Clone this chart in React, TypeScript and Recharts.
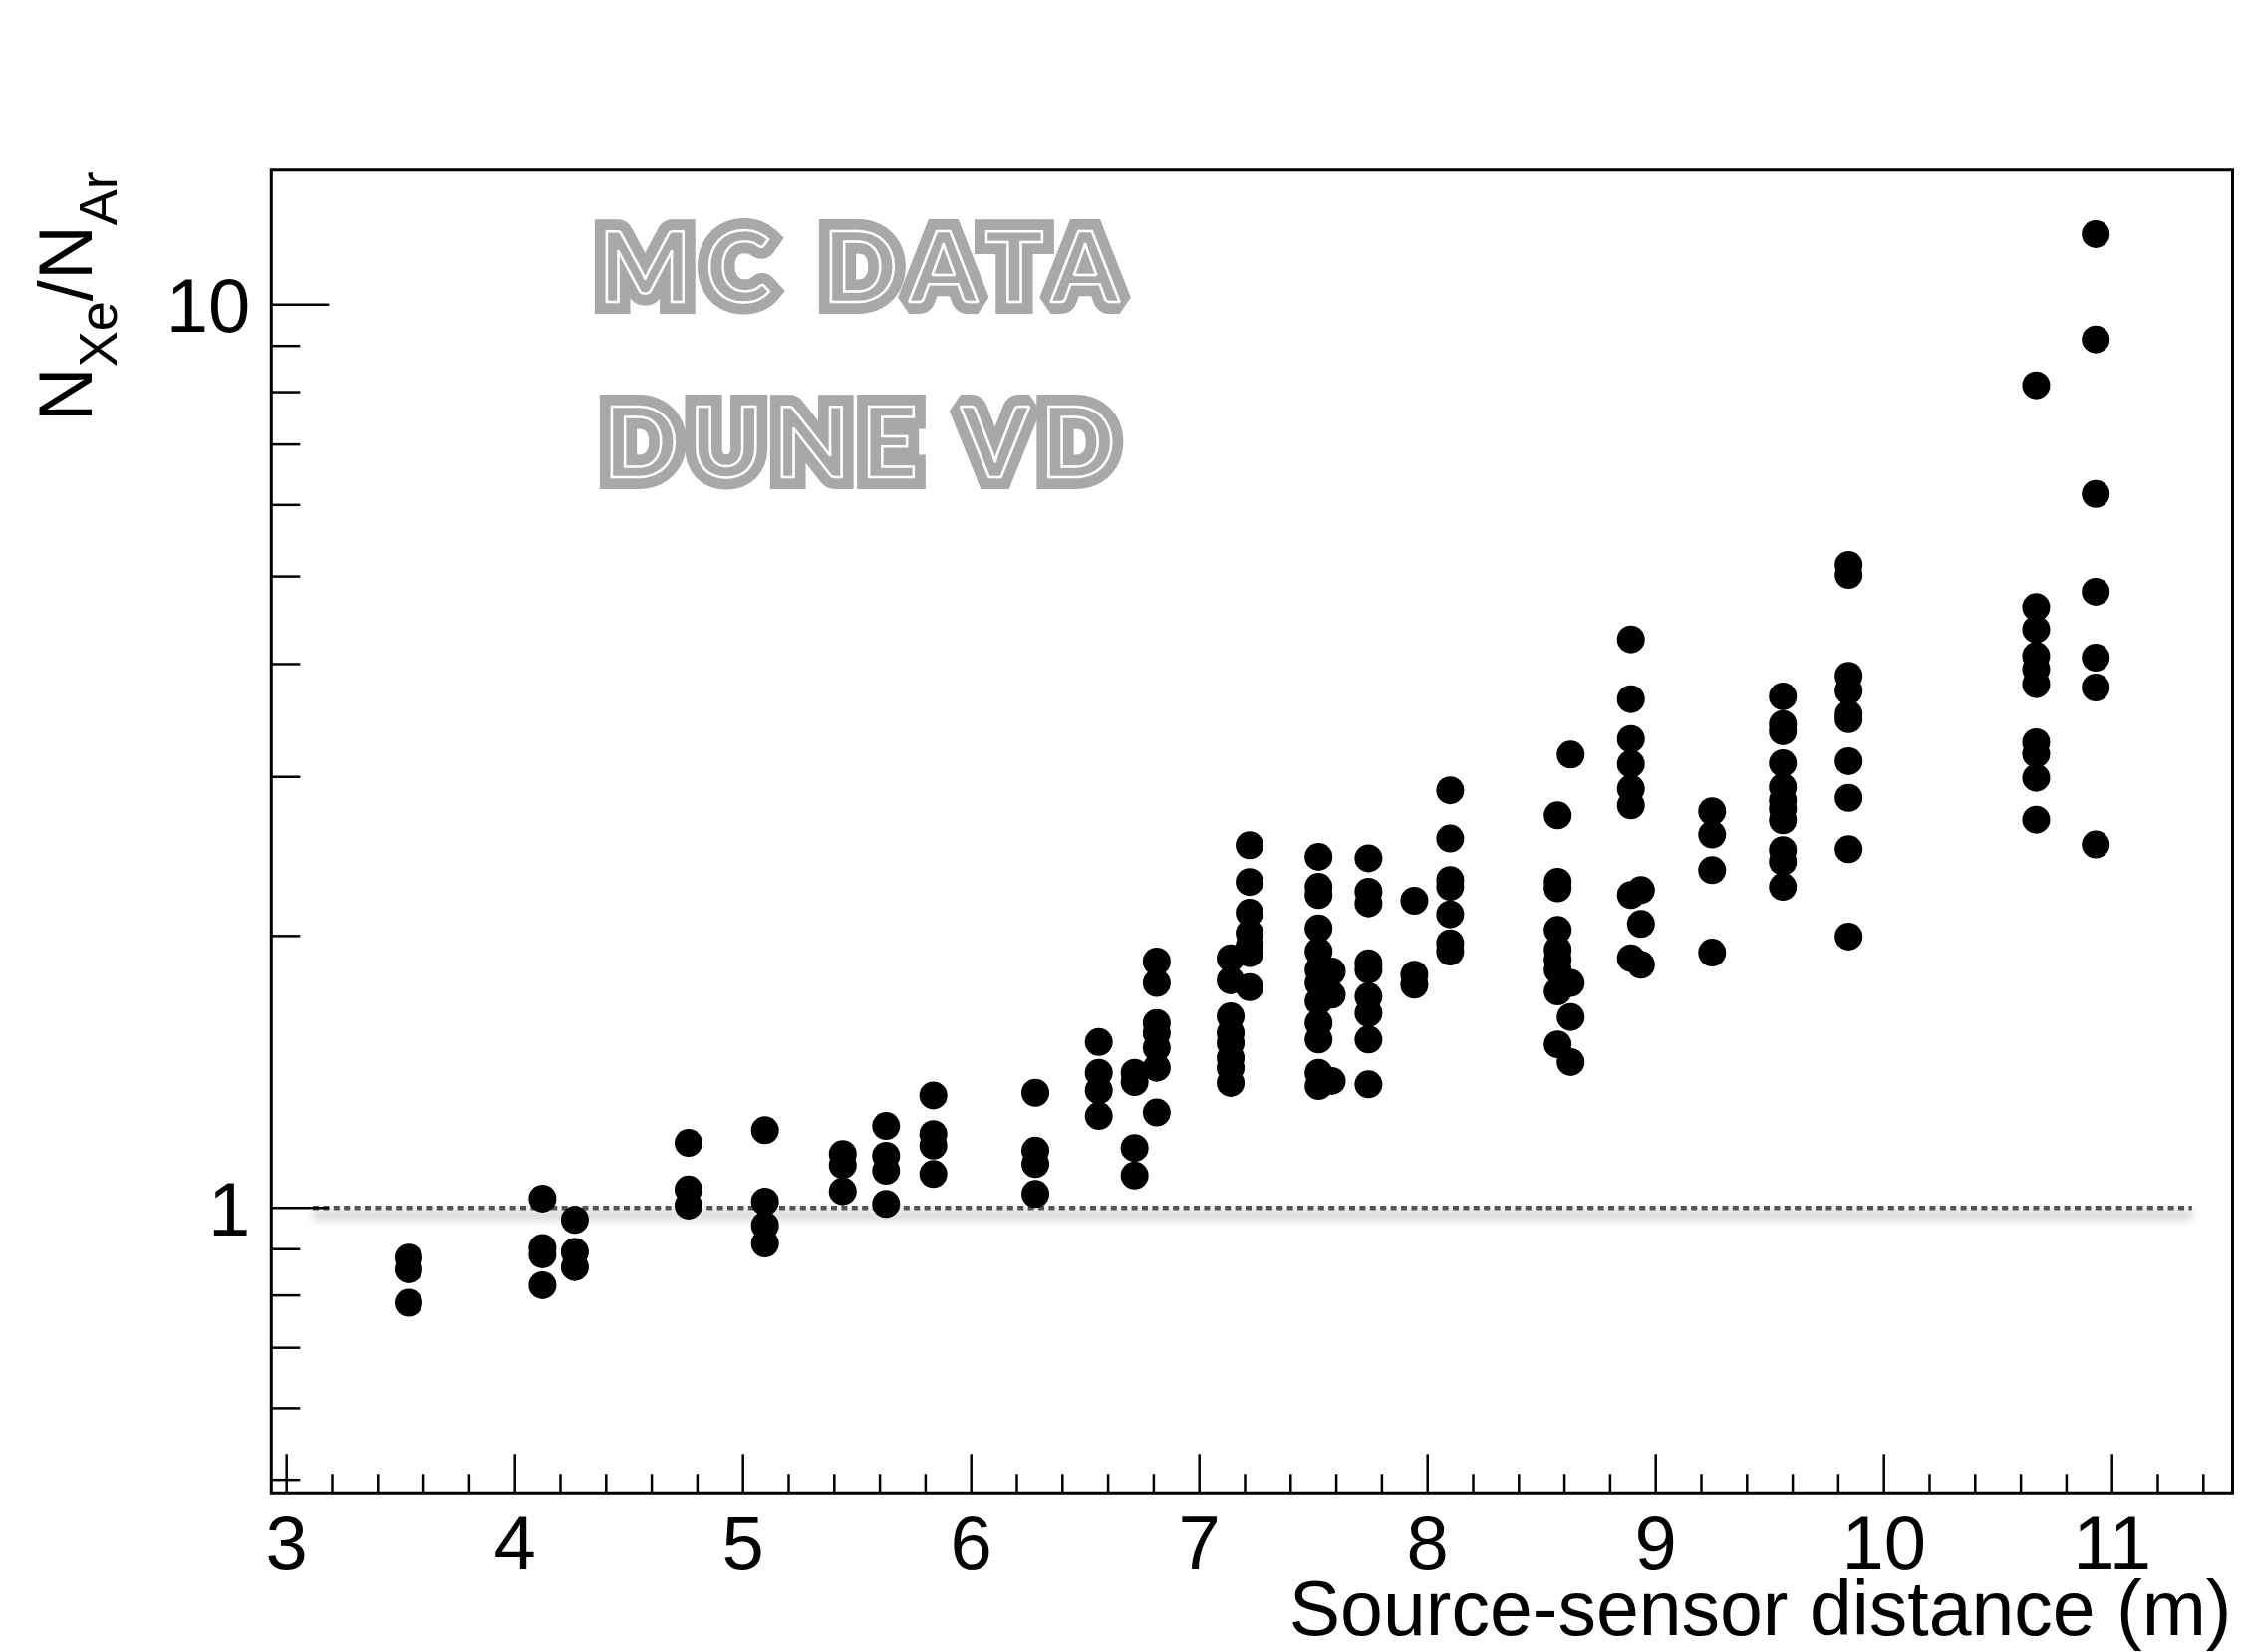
import React from 'react';
import { ScatterChart, Scatter, XAxis, YAxis, ReferenceArea, ReferenceLine, Label } from 'recharts';

// ---- data ----
const distances = [
  3.534, 4.121, 4.263, 4.761, 5.096, 5.437, 5.627, 5.834, 6.281, 6.559,
  6.716, 6.813, 7.137, 7.22, 7.522, 7.58, 7.741, 7.942, 8.099, 8.57,
  8.627, 8.891, 8.935, 9.247, 9.557, 9.845, 10.667, 10.928,
];
const ratios = [
  [0.881, 0.855, 0.785],
  [1.024, 0.903, 0.888, 0.821],
  [0.97, 0.894, 0.86],
  [1.18, 1.048, 1.006],
  [1.219, 1.016, 0.956, 0.913],
  [1.147, 1.115, 1.043],
  [1.232, 1.142, 1.099, 1.01],
  [1.332, 1.207, 1.172, 1.09],
  [1.341, 1.157, 1.118, 1.036],
  [1.526, 1.411, 1.349, 1.264],
  [1.411, 1.378, 1.165, 1.086],
  [1.874, 1.774, 1.602, 1.562, 1.504, 1.429, 1.275],
  [1.89, 1.786, 1.63, 1.562, 1.523, 1.466, 1.429, 1.375],
  [2.52, 2.295, 2.122, 2.014, 1.95, 1.914, 1.755],
  [2.447, 2.267, 2.22, 2.039, 1.922, 1.835, 1.774, 1.693, 1.602, 1.536, 1.411, 1.364],
  [1.827, 1.722, 1.382],
  [2.438, 2.239, 2.173, 1.866, 1.835, 1.714, 1.643, 1.536, 1.37],
  [2.188, 1.812, 1.766],
  [2.899, 2.564, 2.307, 2.267, 2.113, 1.963, 1.922],
  [2.72, 2.296, 2.258, 2.031, 1.931, 1.883, 1.835, 1.736, 1.517],
  [3.176, 1.774, 1.627, 1.45],
  [4.26, 3.658, 3.304, 3.101, 2.911, 2.79, 2.22, 1.89],
  [2.248, 2.062, 1.858],
  [2.748, 2.59, 2.365, 1.917],
  [3.683, 3.432, 3.37, 3.107, 2.923, 2.826, 2.766, 2.686, 2.489, 2.416, 2.267],
  [5.15, 5.02, 3.882, 3.737, 3.521, 3.476, 3.123, 2.844, 2.495, 1.997],
  [8.14, 4.625, 4.37, 4.084, 3.948, 3.8, 3.277, 3.181, 2.993, 2.69],
  [11.97, 9.15, 6.171, 4.809, 4.066, 3.768, 2.525],
];

const xDomain = [2.9328, 11.5275];
const yDomain = [0.4836, 14.09];
const xMajorTicks = [3, 4, 5, 6, 7, 8, 9, 10, 11];
const xMinorSteps = [0.2, 0.4, 0.6, 0.8];
const yMajorTicks = [1, 10];
const yMinorTicks = [0.5, 0.6, 0.7, 0.8, 0.9, 2, 3, 4, 5, 6, 7, 8, 9];
const unityLine = [3.115, 11.35];
const xTitle = 'Source-sensor distance (m)';
const watermark = ['MC DATA', 'DUNE VD'];

const points = distances.flatMap((d, i) => ratios[i].map((r) => ({ distance: d, ratio: r })));

const xTicks = [
  ...xMajorTicks,
  ...xMajorTicks.flatMap((m) => xMinorSteps.map((s) => Math.round((m + s) * 10) / 10)),
].filter((v) => v < xDomain[1]);
const yTicks = [...yMinorTicks, ...yMajorTicks];

const FONT = '"Liberation Sans", Arial, Helvetica, sans-serif';

const XTick = (props: any) => {
  const { x, y, payload } = props;
  const v = payload.value;
  const major = xMajorTicks.includes(v);
  return (
    <g>
      <line x1={x} x2={x} y1={y} y2={y - (major ? 39 : 19)} stroke="#000" strokeWidth={2.5} />
      {major && (
        <text x={x} y={y + 76.7} textAnchor="middle" fontFamily={FONT} fontSize={76} fill="#000">
          {v}
        </text>
      )}
    </g>
  );
};

const YTick = (props: any) => {
  const { x, y, payload } = props;
  const v = payload.value;
  const major = yMajorTicks.includes(v);
  return (
    <g>
      <line x1={x} x2={x + (major ? 58 : 29)} y1={y} y2={y} stroke="#000" strokeWidth={2.5} />
      {major && (
        <text x={x - 21} y={y + 27.5} textAnchor="end" fontFamily={FONT} fontSize={76} fill="#000">
          {v}
        </text>
      )}
    </g>
  );
};

const YTitle = (props: any) => {
  const vb = props.viewBox || { x: 0, y: 170.7 };
  const x = vb.x + 92;
  const y = vb.y + 1.5;
  return (
    <text
      x={x}
      y={y}
      transform={`rotate(-90 ${x} ${y})`}
      textAnchor="end"
      fontFamily={FONT}
      fontSize={76}
      fill="#000"
    >
      <tspan>N</tspan>
      <tspan fontSize={54} dy={25}>Xe</tspan>
      <tspan dy={-25}>/N</tspan>
      <tspan fontSize={54} dy={25}>Ar</tspan>
    </text>
  );
};

const XTitle = (props: any) => {
  const vb = props.viewBox || { x: 272.3, y: 1498.3, width: 1968.2 };
  return (
    <text
      x={vb.x + vb.width - 1}
      y={vb.y + 143}
      textAnchor="end"
      fontFamily={FONT}
      fontSize={77}
      fill="#000"
    >
      {xTitle}
    </text>
  );
};

const UnityLineShape = (p: any) => (
  <g>
    <line
      x1={p.x1}
      y1={p.y1 + 7}
      x2={p.x2}
      y2={p.y2 + 7}
      stroke="#000"
      strokeOpacity={0.16}
      strokeWidth={10}
      filter="url(#unityBlur)"
    />
    <line x1={p.x1} y1={p.y1} x2={p.x2} y2={p.y2} stroke="#50555d" strokeWidth={4.5} strokeDasharray="6 4.4" />
  </g>
);

const Dot = (p: any) => <circle cx={p.cx} cy={p.cy} r={14} fill="#000" />;

const WM_GRAY = '#a6a9a8';

const Watermark = ({ text, x, y, len }: { text: string; x: number; y: number; len: number }) => (
  <g>
    <text
      x={x}
      y={y}
      textLength={len}
      lengthAdjust="spacing"
      fontFamily="Lato, sans-serif"
      fontWeight={700}
      fontSize={98}
      fill={WM_GRAY}
      stroke={WM_GRAY}
      strokeWidth={24}
      strokeLinejoin="miter"
      strokeMiterlimit={1.5}
    >
      {text}
    </text>
    <text
      x={x}
      y={y}
      textLength={len}
      lengthAdjust="spacing"
      fontFamily="Lato, sans-serif"
      fontWeight={700}
      fontSize={98}
      fill={WM_GRAY}
      stroke="#fff"
      strokeWidth={2.5}
      strokeLinejoin="miter"
      strokeMiterlimit={1.5}
    >
      {text}
    </text>
  </g>
);

export default function App() {
  return (
    <div style={{ position: 'absolute', left: 0, top: 0, width: 2253, height: 1658, background: '#fff' }}>
      <ScatterChart width={2253} height={1658} margin={{ top: 170.7, right: 12.5, left: 0, bottom: 0 }}>
        <XAxis
          type="number"
          dataKey="distance"
          domain={xDomain}
          allowDataOverflow
          ticks={xTicks}
          interval={0}
          tickSize={0}
          tickMargin={0}
          tickLine={false}
          axisLine={false}
          tick={XTick}
          height={159.7}
        >
          <Label content={XTitle} />
        </XAxis>
        <YAxis
          type="number"
          dataKey="ratio"
          scale="log"
          domain={yDomain}
          allowDataOverflow
          ticks={yTicks}
          interval={0}
          tickSize={0}
          tickMargin={0}
          tickLine={false}
          axisLine={false}
          tick={YTick}
          width={272.3}
        >
          <Label content={YTitle} />
        </YAxis>
        <Scatter data={points} fill="#000" shape={Dot} isAnimationActive={false} />
        <ReferenceLine
          segment={[
            { x: unityLine[0], y: 1 },
            { x: unityLine[1], y: 1 },
          ]}
          shape={UnityLineShape}
          ifOverflow="visible"
        />
        <ReferenceArea
          x1={xDomain[0]}
          x2={xDomain[1]}
          y1={yDomain[0]}
          y2={yDomain[1]}
          fill="none"
          fillOpacity={0}
          stroke="#000"
          strokeWidth={3}
          ifOverflow="visible"
        />
      </ScatterChart>
      <svg
        width={2253}
        height={1658}
        style={{ position: 'absolute', left: 0, top: 0, pointerEvents: 'none' }}
      >
        <defs>
          <filter id="unityBlur" filterUnits="userSpaceOnUse" x={0} y={0} width={2253} height={1658}>
            <feGaussianBlur stdDeviation={4} />
          </filter>
        </defs>
        <Watermark text={watermark[0]} x={601} y={303.3} len={522} />
        <Watermark text={watermark[1]} x={606} y={479.3} len={513} />
      </svg>
    </div>
  );
}
